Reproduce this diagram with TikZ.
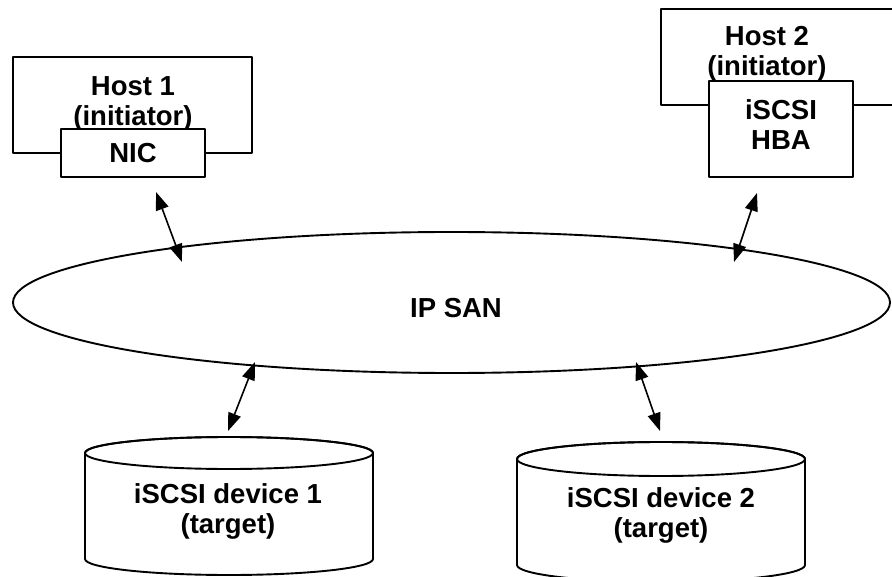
\documentclass[tikz,border=0pt]{standalone}
\usepackage{fontspec}
\setmainfont{Liberation Sans}
\usetikzlibrary{arrows.meta}
\usetikzlibrary{shapes.geometric}

\begin{document}
\begin{tikzpicture}[x=1pt, y=-1pt, line width=1.9pt, line join=round,
    every node/.style={font=\bfseries\fontsize{27.5}{30}\selectfont, align=center, inner sep=0pt},
    box/.style={draw, fill=white, rectangle},
    link/.style={{Triangle[length=18pt,width=13pt]}-{Triangle[length=18pt,width=13pt]}, line width=1.6pt}]
    % hosts, IP SAN and iSCSI storage
    \def\ry{16}
    \clip (0,0) rectangle (892,577);

    \coordinate (A1) at (156,192);
    \coordinate (B1) at (182,262);
    \coordinate (A2) at (757,193);
    \coordinate (B2) at (734,262);
    \coordinate (A3) at (255,362);
    \coordinate (B3) at (228,431);
    \coordinate (A4) at (636,362);
    \coordinate (B4) at (660,431);

    \node[box, minimum width=239pt, minimum height=96pt] (host1) at (132.5,105) {};
    \node (host1txt) at (133,104) {Host 1\\(initiator)};
    \node[box, minimum width=144pt, minimum height=48pt] (nic) at (133,153) {NIC};

    \node[box, minimum width=240pt, minimum height=96pt] (host2) at (781,57) {};
    \node (host2txt) at (767,54) {Host 2\\(initiator)};
    \node[box, minimum width=144pt, minimum height=96pt] (hba) at (781,129) {};
    \node (hbatxt) at (781,125) {iSCSI\\HBA};

    \node[draw, ellipse, minimum width=877pt, minimum height=141pt] (san) at (451.5,302.5) {};
    \node (santxt) at (456,308) {IP SAN};

    \filldraw[fill=white] (85,453) -- (85,559) arc[start angle=180, end angle=0, x radius=144, y radius=\ry]
        -- (373,453) arc[start angle=0, end angle=-180, x radius=144, y radius=\ry] -- cycle;
    \draw (229,453) ellipse[x radius=144, y radius=\ry];
    \node (dev1) at (228,511) {iSCSI device 1\\(target)};

    \filldraw[fill=white] (517,459) -- (517,565) arc[start angle=180, end angle=0, x radius=144, y radius=17]
        -- (805,459) arc[start angle=0, end angle=-180, x radius=144, y radius=17] -- cycle;
    \draw (661,459) ellipse[x radius=144, y radius=17];
    \node (dev2) at (661,515) {iSCSI device 2\\(target)};

    \draw[link] (A1) -- (B1);
    \draw[link] (A2) -- (B2);
    \draw[link] (A3) -- (B3);
    \draw[link] (A4) -- (B4);
\end{tikzpicture}
\end{document}
